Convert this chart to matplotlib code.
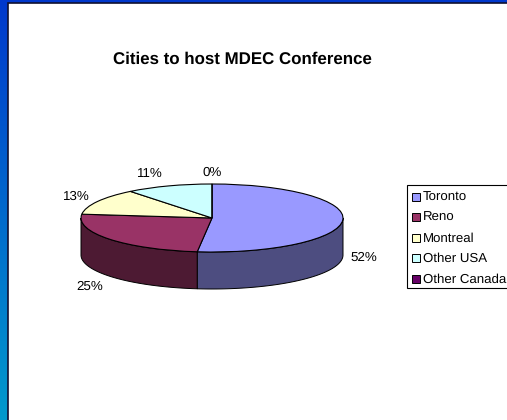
import numpy as np
import matplotlib
matplotlib.use('Agg')
import matplotlib.pyplot as plt
from matplotlib.patches import Rectangle

plt.rcParams['font.family'] = ['Liberation Sans', 'DejaVu Sans']
plt.rcParams['text.hinting'] = 'no_hinting'

cities = ['Toronto', 'Reno', 'Montreal', 'Other USA', 'Other Canada']
shares = [51.8, 25.0, 12.5, 10.7, 0.0]
pct_labels = ['52%', '25%', '13%', '11%', '0%']
top_colors = ['#9999ff', '#993366', '#ffffcc', '#ccffff', '#660066']
side_colors = ['#4d4d80', '#4d1a33', '#808066', '#668080', '#330033']

W, H = 507, 420
fig = plt.figure(figsize=(W / 100, H / 100), dpi=100)

# fond bleu + panneau blanc
bg = fig.add_axes([0, 0, 1, 1])
bg.axis('off')
grad = np.linspace(0, 1, 256).reshape(-1, 1, 1)
rgb = np.array([0, 0.22, 0.80]) * (1 - grad) + np.array([0, 0.60, 0.80]) * grad
bg.imshow(rgb, extent=[0, W, H, 0], aspect='auto', zorder=0)
bg.add_patch(Rectangle((8, 3), W, H, fc='white', ec='#101030', lw=1.2, zorder=1))
bg.set_xlim(0, W)
bg.set_ylim(H, 0)

# ellipse du camembert en pixels
cx, cy, rx, ry, depth = 212, 218, 131, 34, 37

# axes squashed: la tarte remplit exactement l'ellipse
ax = fig.add_axes([(cx - rx) / W, 1 - (cy + ry) / H, 2 * rx / W, 2 * ry / H])
ax.patch.set_alpha(0)

# cote 3D, seulement la partie avant
ends = np.cumsum(shares) / sum(shares) * 360
starts = ends - np.array(shares) / sum(shares) * 360
for a0, a1, col in zip(starts, ends, side_colors):
    lo, hi = max(a0, 90), min(a1, 270)
    if hi <= lo:
        continue
    t = np.radians(np.linspace(lo, hi, 80))
    x = cx + rx * np.sin(t)
    y = cy - ry * np.cos(t)
    bg.fill(np.r_[x, x[::-1]], np.r_[y, y[::-1] + depth], fc=col, ec='black', lw=0.7, zorder=2)

ax.pie(shares, colors=top_colors, startangle=90, counterclock=False, radius=1,
       wedgeprops=dict(edgecolor='black', linewidth=0.8))
ax.set_aspect('auto')
ax.set_xlim(-1, 1)
ax.set_ylim(-1, 1)
for p in ax.patches:
    p.set_clip_on(False)

bg.text(242, 59, 'Cities to host MDEC Conference', fontsize=12.2, fontweight='bold',
        ha='center', va='center', color='black', zorder=5)

label_pos = [(364, 258), (90, 287), (76, 197), (150, 174), (212, 173)]
for txt, (x, y) in zip(pct_labels, label_pos):
    bg.text(x, y, txt, fontsize=9.6, ha='center', va='center', color='black', zorder=5)

# legende, coupee par le bord droit
bg.add_patch(Rectangle((407, 185), 110, 103, fc='white', ec='black', lw=0.8, zorder=3))
for i, (name, col) in enumerate(zip(cities, top_colors)):
    y = 197 + i * 20.4
    bg.add_patch(Rectangle((412, y - 4), 8, 8, fc=col, ec='black', lw=0.7, zorder=4))
    bg.text(423, y + 0.5, name, fontsize=9.5, ha='left', va='center', color='black', zorder=5)

fig.savefig('out.png', dpi=100)
